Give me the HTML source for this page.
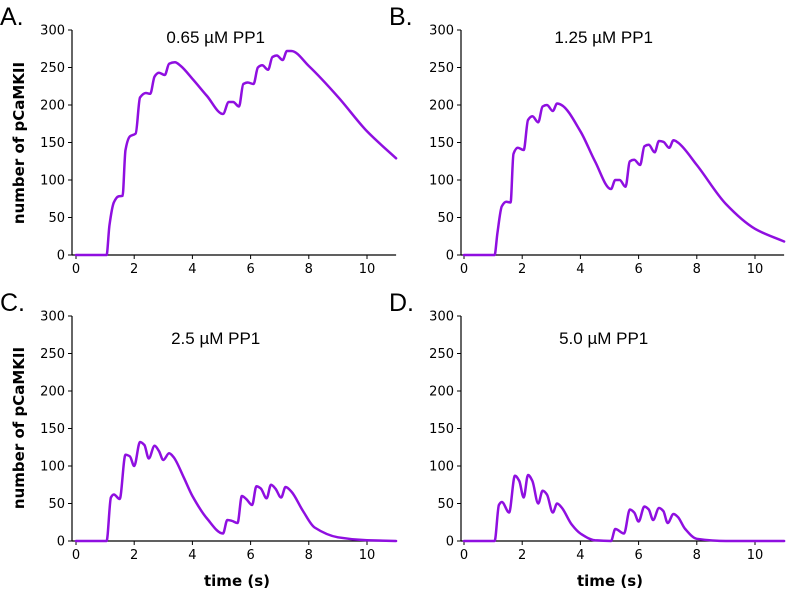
<!DOCTYPE html>
<html><head><meta charset="utf-8"><style>
html,body{margin:0;padding:0;background:#fff;}
svg{display:block;font-family:"DejaVu Sans","Liberation Sans",sans-serif;}
</style></head><body>
<svg id="fig" width="792" height="598" viewBox="0 0 792 598" xmlns="http://www.w3.org/2000/svg"></svg>
<script>
const titles = ["0.65 µM PP1","1.25 µM PP1","2.5 µM PP1","5.0 µM PP1"];
const letters = ["A.","B.","C.","D."];
const xTicks = [0,2,4,6,8,10];
const yTicks = [0,50,100,150,200,250,300];
const tA = [0,1.05,1.15,1.3,1.45,1.6,1.7,1.85,2.05,2.2,2.4,2.55,2.7,2.85,3.05,3.2,3.4,3.6,4,4.5,5.05,5.25,5.4,5.6,5.75,5.9,6.1,6.25,6.4,6.6,6.75,6.9,7.1,7.25,7.4,8,9,10,11];
const vA = [0,0,40,70,78,79,140,158,162,210,216,215,238,243,240,255,257,252,235,212,188,204,204,198,228,230,228,250,253,247,264,266,260,272,272,252,211,165,129];
const tB = [0,1.05,1.15,1.3,1.45,1.6,1.7,1.85,2.05,2.2,2.35,2.55,2.7,2.85,3.05,3.2,3.35,4,4.5,5.05,5.2,5.35,5.55,5.7,5.85,6.05,6.2,6.35,6.55,6.7,6.85,7.05,7.2,7.35,8,9,10,11];
const vB = [0,0,30,65,71,70,135,143,140,180,185,177,198,200,192,202,200,165,125,88,100,100,91,125,127,120,145,147,137,152,151,143,153,150,120,68,35,18];
const tC = [0,1.05,1.2,1.3,1.5,1.7,1.85,2.0,2.2,2.35,2.5,2.7,2.85,3.0,3.2,3.35,3.7,4.0,4.5,5.05,5.2,5.35,5.55,5.7,5.85,6.05,6.2,6.35,6.55,6.7,6.85,7.05,7.2,7.4,7.8,8.2,9,10,11];
const vC = [0,0,58,62,56,115,113,100,132,128,110,127,120,108,117,112,85,60,30,10,28,27,24,60,56,48,73,70,57,75,70,58,72,66,40,18,5,1,0];
const tD = [0,1.05,1.2,1.3,1.55,1.75,1.9,2.05,2.2,2.35,2.55,2.7,2.85,3.05,3.2,3.35,3.7,4,4.5,5.05,5.2,5.5,5.7,5.85,6.0,6.2,6.35,6.5,6.7,6.85,7.0,7.2,7.35,7.6,8,9,11];
const vD = [0,0,48,52,38,87,80,58,88,80,50,67,62,38,50,45,22,10,1,0,16,10,42,38,26,46,42,28,44,40,24,36,32,16,3,0,0];
const times = [tA,tB,tC,tD];
const vals = [vA,vB,vC,vD];

const NS="http://www.w3.org/2000/svg";
const svg=document.getElementById('fig');
function mk(tag,attrs,parent){const e=document.createElementNS(NS,tag);for(const k in attrs)e.setAttribute(k,attrs[k]);(parent||svg).appendChild(e);return e;}
function monotonePath(xs,ys){
  const n=xs.length,d=[],m=new Array(n);
  for(let i=0;i<n-1;i++)d.push((ys[i+1]-ys[i])/(xs[i+1]-xs[i]));
  m[0]=d[0];m[n-1]=d[n-2];
  for(let i=1;i<n-1;i++){m[i]=(d[i-1]*d[i]<=0)?0:2/(1/d[i-1]+1/d[i]);}
  let s='M'+xs[0].toFixed(1)+','+ys[0].toFixed(1);
  for(let i=0;i<n-1;i++){const h=(xs[i+1]-xs[i])/3;
    s+=' C'+(xs[i]+h).toFixed(1)+','+(ys[i]+m[i]*h).toFixed(1)+' '+(xs[i+1]-h).toFixed(1)+','+(ys[i+1]-m[i+1]*h).toFixed(1)+' '+xs[i+1].toFixed(1)+','+ys[i+1].toFixed(1);}
  return s;
}
const panels=[{ax:72,x0:76,y0:255,yTop:30},{ax:461,x0:464,y0:255,yTop:30},{ax:72,x0:76,y0:541,yTop:316},{ax:461,x0:464,y0:541,yTop:316}];
const pxPerX=29.1;
panels.forEach((p,i)=>{
  const g=mk('g',{});
  
  
  const X=t=>p.x0+t*pxPerX;
  const Y=v=>p.y0-(v/300)*(p.y0-p.yTop);
  const lt=mk('text',{x:p.ax-72,y:p.yTop-5,'font-size':25,fill:'#000','font-family':'Liberation Sans, sans-serif'},g);
  lt.textContent=letters[i];
  
  
  const ya=mk('line',{x1:p.ax,y1:p.yTop,x2:p.ax,y2:p.y0,stroke:'#000','stroke-width':1.2},g);
  
  
  const xa=mk('line',{x1:p.ax,y1:p.y0,x2:X(11),y2:p.y0,stroke:'#000','stroke-width':1.2},g);
  
  
  yTicks.forEach(v=>{
    mk('line',{x1:p.ax-4,y1:Y(v),x2:p.ax,y2:Y(v),stroke:'#000','stroke-width':1},g);
    const t=mk('text',{x:p.ax-7,y:Y(v)+4.5,'font-size':13,'text-anchor':'end',fill:'#000'},g);
    t.textContent=v;
    
    
  });
  xTicks.forEach(v=>{
    mk('line',{x1:X(v),y1:p.y0,x2:X(v),y2:p.y0+4,stroke:'#000','stroke-width':1},g);
    const t=mk('text',{x:X(v),y:p.y0+18,'font-size':13,'text-anchor':'middle',fill:'#000'},g);
    t.textContent=v;
    
    
  });
  const tt=mk('text',{x:X(4.8),y:p.yTop+(i<2?13:28),'font-size':17,'text-anchor':'middle',fill:'#000','font-family':'Liberation Sans, sans-serif'},g);
  tt.textContent=titles[i];
  
  
  const path=mk('path',{d:monotonePath(times[i].map(X),vals[i].map(Y)),fill:'none',stroke:'#8f0fe0','stroke-width':2.5,'stroke-linejoin':'round','stroke-linecap':'round'},g);
  
  
});
[143,428].forEach(cy=>{
  const t=mk('text',{x:0,y:0,'font-size':15,'font-weight':'bold','text-anchor':'middle',fill:'#000',transform:`translate(24,${cy}) rotate(-90)`});
  t.textContent='number of pCaMKII';
  
  
});
[237,610].forEach(cx=>{
  const t=mk('text',{x:cx,y:586,'font-size':15,'font-weight':'bold','text-anchor':'middle',fill:'#000'});
  t.textContent='time (s)';
  
  
});
</script>
</body></html>
